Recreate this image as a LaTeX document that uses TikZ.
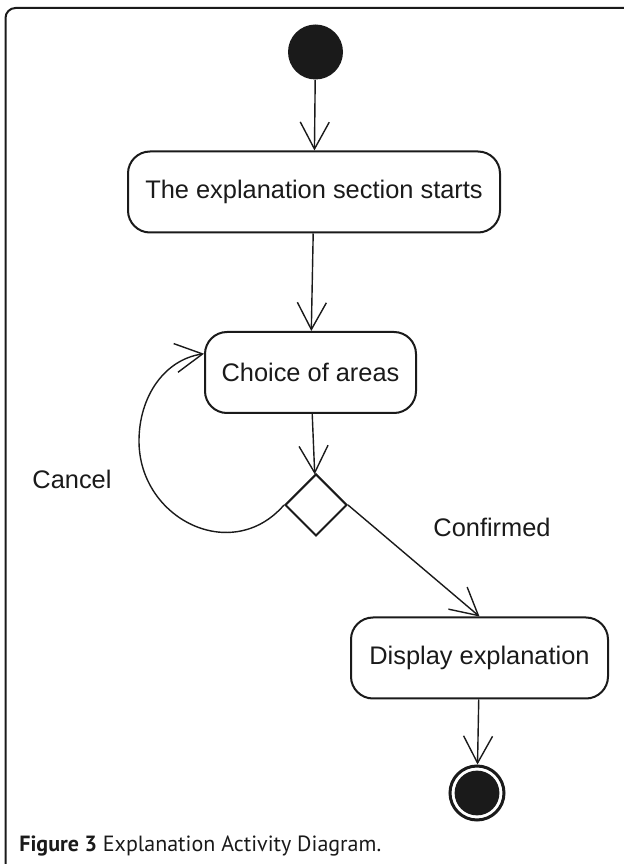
\documentclass[tikz,border=0pt]{standalone}
\usepackage{fontspec}
\setmainfont{Liberation Sans}
\newfontfamily\capfont{PT Sans}
\usetikzlibrary{arrows.meta,shapes.geometric}
\definecolor{ink}{HTML}{1A1A1A}
\tikzset{
  activity/.style={draw=ink, line width=1pt, rounded corners=11pt, minimum height=40.5pt,
    inner sep=0pt, font=\fontsize{12.7}{15}\selectfont, text=ink},
  decision/.style={diamond, draw=ink, line width=1pt, minimum size=31pt, inner sep=0pt},
  flow/.style={draw=ink, line width=0.7pt,
    -{Straight Barb[length=13.5pt,width=14.5pt,line width=0.7pt]}},
  guard/.style={font=\fontsize{12.7}{15}\selectfont, text=ink},
}

\begin{document}
\begin{tikzpicture}[x=0.5pt, y=0.5pt]
\useasboundingbox (0,0) rectangle (624,864);
\draw[ink, line width=1pt, rounded corners=5pt] (5.5,0) -- (5.5,856) -- (624,856);

\node[circle, fill=ink, minimum size=27.5pt, inner sep=0pt] (start) at (315.5,812) {};
\node[activity, minimum width=186pt] (starts) at (314,672) {The explanation section starts};
\node[activity, minimum width=105.5pt] (choice) at (310.5,491.5) {Choice of areas};
\node[decision] (dec) at (316,359) {};
\node[activity, minimum width=128.5pt] (show) at (479.5,206) {Display explanation};
\node[circle, draw=ink, line width=1.5pt, minimum size=27pt, inner sep=0pt,
  path picture={\fill[ink] (path picture bounding box.center) circle (11.2pt);}] (stop) at (477,71) {};

\node[guard] (cancel) at (72,385) {Cancel};
\node[guard] (confirmed) at (492,337) {Confirmed};

\draw[flow] (start) -- (starts);
\draw[flow] (starts) -- (choice);
\draw[flow] (choice) -- (dec);
\draw[flow] (dec.east) -- (show.north);
\draw[flow] (show) -- (stop);
\draw[flow] (dec.west) .. controls +(-52,-60) and +(0,-78) .. (139,423)
  .. controls +(0,44) and +(-40,-6) .. (choice.170);

\node[anchor=base west, inner sep=0pt, font=\capfont\fontsize{11}{13}\selectfont, text=ink]
  (caption) at (19,12) {\textbf{Figure 3} Explanation Activity Diagram.};
\end{tikzpicture}
\end{document}
